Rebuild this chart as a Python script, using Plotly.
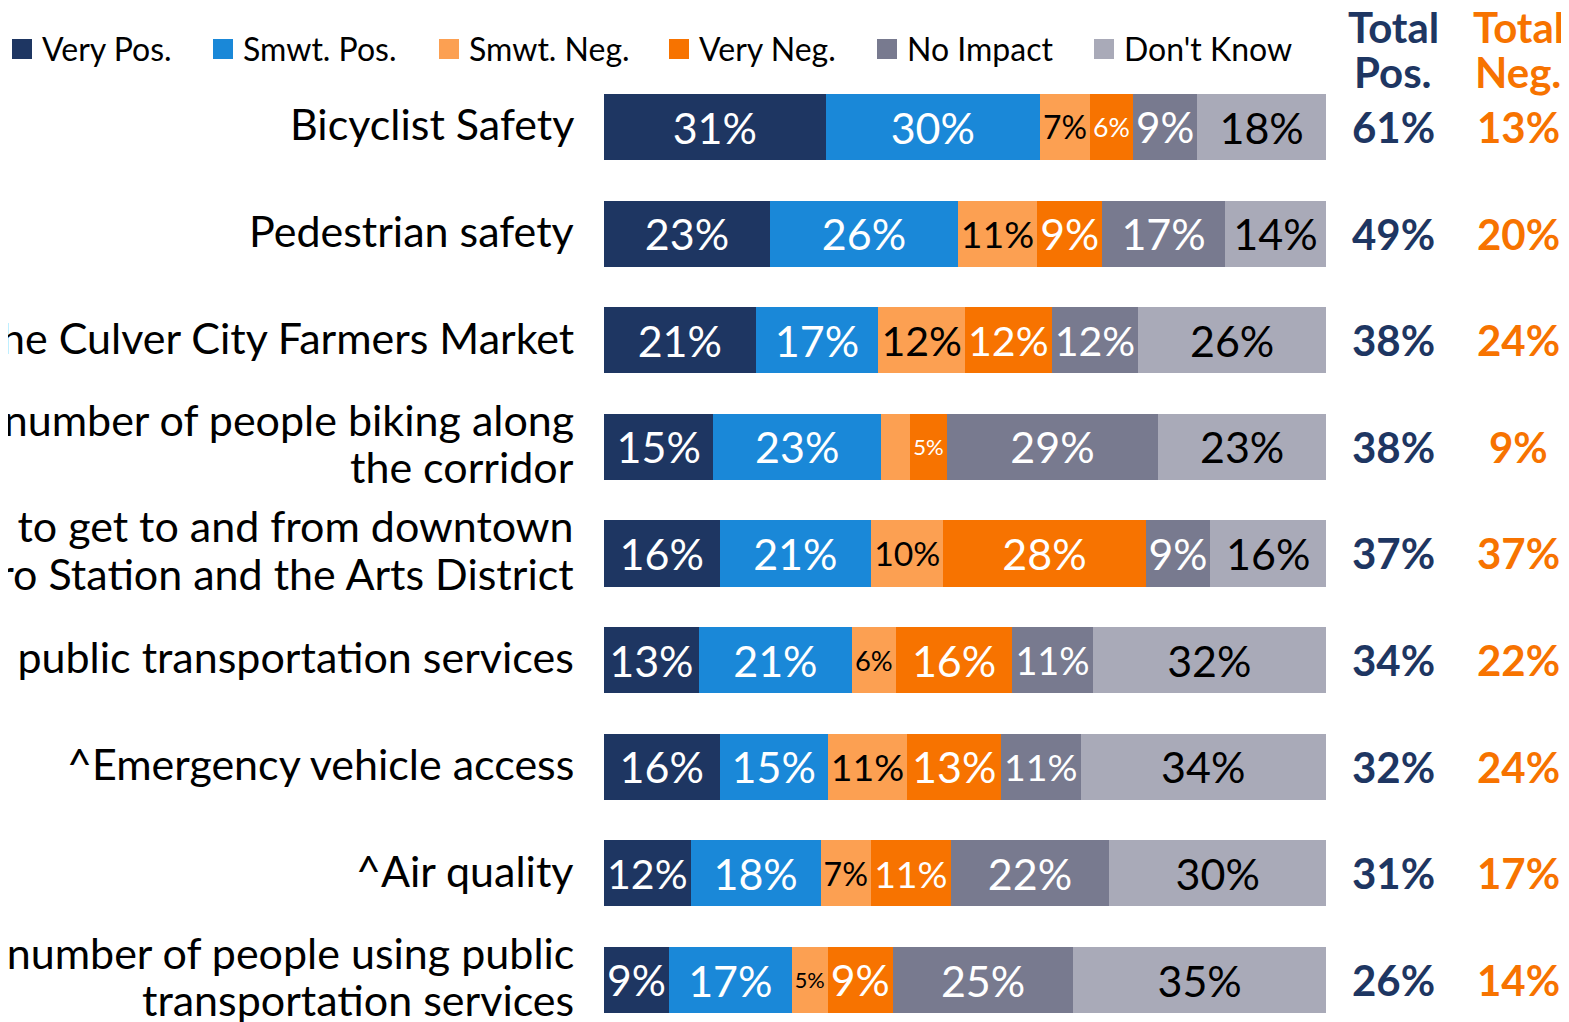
import plotly.graph_objects as go

# Survey items (top to bottom); the left part of the longer labels is cut off in the source
items = [
    "Bicyclist Safety",
    "Pedestrian safety",
    "The Culver City Farmers Market",
    "The number of people biking along<br>the corridor",
    "Ability to get to and from downtown<br>the Metro Station and the Arts District",
    "Access to public transportation services",
    "^Emergency vehicle access",
    "^Air quality",
    "The number of people using public<br>transportation services",
]

series_names = ["Very Pos.", "Smwt. Pos.", "Smwt. Neg.", "Very Neg.", "No Impact", "Don't Know"]

very_pos = [31, 23, 21, 15, 16, 13, 16, 12, 9]
smwt_pos = [30, 26, 17, 23, 21, 21, 15, 18, 17]
smwt_neg = [7, 11, 12, 4, 10, 6, 11, 7, 5]
very_neg = [6, 9, 12, 5, 28, 16, 13, 11, 9]
no_impact = [9, 17, 12, 29, 9, 11, 11, 22, 25]
dont_know = [18, 14, 26, 23, 16, 32, 34, 30, 35]

total_pos = [61, 49, 38, 38, 37, 34, 32, 31, 26]
total_neg = [13, 20, 24, 9, 37, 22, 24, 17, 14]

colors = ["#1e3662", "#1a88d8", "#fca052", "#f77300", "#787a8f", "#a9aab8"]
text_colors = ["white", "white", "black", "white", "white", "black"]

NAVY = "#1e3662"
ORANGE = "#f77300"
FONT = "Lato"

# the page body has an 8px margin, so the figure is drawn 8px smaller and positions shifted
OFF = 8
W, H = 1569 - OFF, 1022 - OFF


def px_x(p):
    return (p - OFF) / W


def px_y(p):
    return 1 - (p - OFF) / H


fig = go.Figure()

all_series = [very_pos, smwt_pos, smwt_neg, very_neg, no_impact, dont_know]
for name, vals, col, tcol in zip(series_names, all_series, colors, text_colors):
    # segments under 5% carry no label in the original
    labels = [f"{v}%" if v >= 5 else "" for v in vals]
    fig.add_trace(go.Bar(
        x=vals,
        y=items,
        orientation="h",
        name=name,
        marker=dict(color=col, line=dict(width=0)),
        text=labels,
        textposition="inside",
        insidetextanchor="middle",
        textangle=0,
        textfont=dict(family=FONT, size=43, color=tcol),
        showlegend=False,
    ))

# category labels as annotations so two-line labels get a tighter line spacing
for i, item in enumerate(items):
    lines = item.split("<br>")
    offsets = [-0.03] if len(lines) == 1 else [-0.26, 0.185]
    for line, dy in zip(lines, offsets):
        fig.add_annotation(x=px_x(576), y=i + dy, xref="paper", yref="y", text=line,
                           xanchor="right", yanchor="middle", showarrow=False,
                           font=dict(family=FONT, size=43, color="black"))

# legend drawn by hand: square swatch + label
swatch_left = [12, 213, 439, 669, 877, 1094]
for name, col, sx in zip(series_names, colors, swatch_left):
    fig.add_shape(type="rect", xref="paper", yref="paper",
                  x0=px_x(sx), x1=px_x(sx + 20), y0=px_y(59), y1=px_y(39),
                  fillcolor=col, line=dict(width=0))
    fig.add_annotation(x=px_x(sx + 28), y=px_y(49), xref="paper", yref="paper", text=name,
                       xanchor="left", yanchor="middle", showarrow=False,
                       font=dict(family=FONT, size=32, color="black"))

# Total Pos. / Total Neg. columns
x_pos, x_neg = px_x(1393), px_x(1518)
for xc, col, word in [(x_pos, NAVY, "Pos."), (x_neg, ORANGE, "Neg.")]:
    fig.add_annotation(x=xc, y=px_y(27), xref="paper", yref="paper", text="<b>Total</b>",
                       xanchor="center", yanchor="middle", showarrow=False,
                       font=dict(family=FONT, size=42, color=col))
    fig.add_annotation(x=xc, y=px_y(72), xref="paper", yref="paper", text=f"<b>{word}</b>",
                       xanchor="center", yanchor="middle", showarrow=False,
                       font=dict(family=FONT, size=42, color=col))

for item, tp, tn in zip(items, total_pos, total_neg):
    fig.add_annotation(x=x_pos, y=item, xref="paper", yref="y", text=f"<b>{tp}%</b>",
                       xanchor="center", yanchor="middle", showarrow=False,
                       font=dict(family=FONT, size=42, color=NAVY))
    fig.add_annotation(x=x_neg, y=item, xref="paper", yref="y", text=f"<b>{tn}%</b>",
                       xanchor="center", yanchor="middle", showarrow=False,
                       font=dict(family=FONT, size=42, color=ORANGE))

pitch = (980 - 127) / 8
top_px = 127 - pitch / 2
span = (1022 - top_px) / pitch

fig.update_layout(
    width=W, height=H,
    margin=dict(l=0, r=0, t=0, b=0),
    paper_bgcolor="white", plot_bgcolor="white",
    barmode="stack", barnorm="percent", bargap=0.38,
    font=dict(family=FONT, color="black"),
    showlegend=False,
    xaxis=dict(domain=[px_x(604), px_x(1326)], range=[0, 100], visible=False, fixedrange=True),
    yaxis=dict(domain=[0, px_y(top_px)], range=[span - 0.5, -0.5], showgrid=False,
               showline=False, ticks="", showticklabels=False, automargin=False),
)

fig.write_html("out.html")
